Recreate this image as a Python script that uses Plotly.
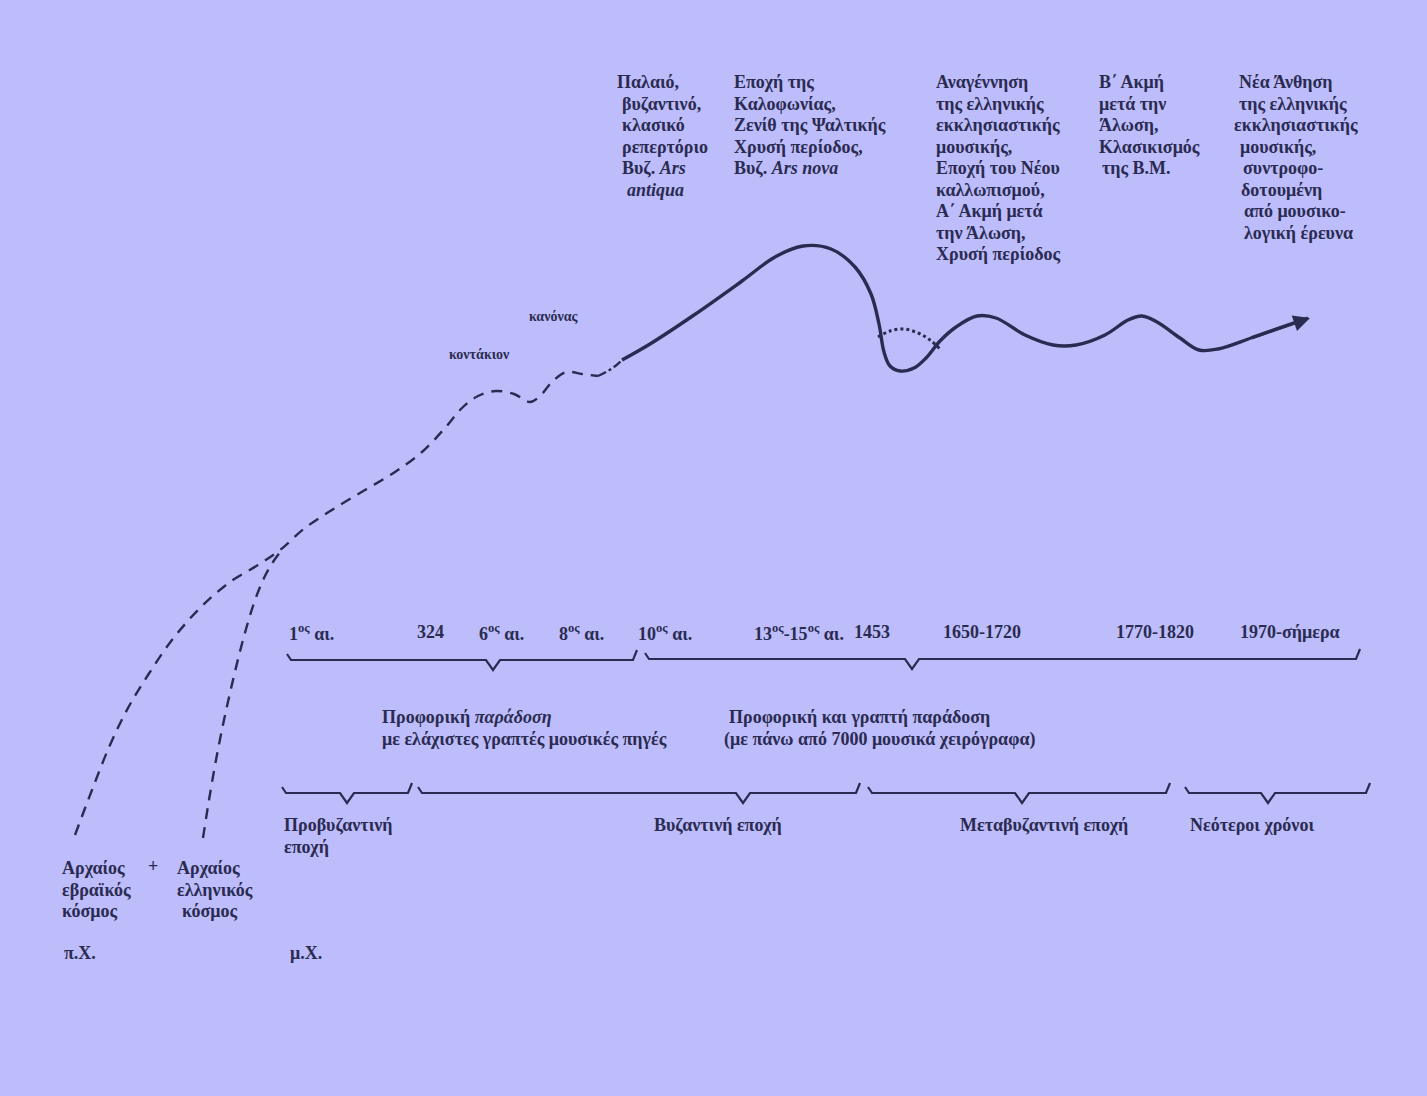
import plotly.graph_objects as go

# page is laid out in pixel units of the original drawing
W, H = 1427, 1096
INK = "#2b2b52"
BG = "#bdbdfb"
FONT = "Liberation Serif"
LINE = 21.5

# main development curve (dashed part: early period)
dash_x = [75, 92, 110, 128, 148, 172, 200, 230, 258, 280, 305, 335, 365, 395, 422, 445, 462, 478, 496, 514, 530, 540, 552, 566, 582, 598]
dash_y = [835, 790, 745, 708, 675, 640, 608, 582, 565, 550, 528, 508, 490, 472, 452, 428, 408, 396, 391, 394, 402, 396, 382, 372, 374, 376]

# dash-dot transition
tran_x = [598, 606, 614, 622]
tran_y = [376, 372, 367, 360]

# solid curve: from 10th century to today
solid_x = [622, 650, 694, 742, 775, 803, 831, 855, 871, 879, 884, 890, 900, 914, 926, 940, 956, 977, 996, 1025, 1053, 1076, 1105, 1128, 1142, 1157, 1180, 1199, 1218, 1251, 1279, 1308]
solid_y = [360, 344, 315, 281, 257, 246, 249, 267, 294, 324, 352, 366, 371, 368, 358, 341, 327, 316, 318, 335, 345, 345, 335, 320, 316, 322, 338, 350, 349, 338, 328, 318]

# dotted alternative arc after 1453
dot_x = [878, 890, 904, 918, 930, 941]
dot_y = [337, 331, 329, 333, 340, 350]

# second dashed branch (ancient Greek world)
greek_x = [203, 209, 216, 224, 233, 243, 254, 264, 273, 280, 283]
greek_y = [838, 800, 760, 720, 680, 640, 603, 578, 562, 552, 547]

# braces: start, end, centre tick, height
brace_x0 = [287, 645, 282, 418, 868, 1185]
brace_x1 = [637, 1360, 412, 860, 1170, 1370]
brace_xc = [493, 912, 347, 743, 1022, 1268]
brace_y = [660, 659, 793, 793, 793, 793]

# period labels above the upper braces
date_labels = ["1<sup>ος</sup> αι.", "324", "6<sup>ος</sup> αι.", "8<sup>ος</sup> αι.", "10<sup>ος</sup> αι.",
               "13<sup>ος</sup>-15<sup>ος</sup> αι.", "1453", "1650-1720", "1770-1820", "1970-σήμερα"]
date_x = [287, 415, 477, 557, 636, 752, 852, 941, 1114, 1238]
date_y = 632

# descriptive blocks above the curve (one list of lines per block)
top_blocks = [
    ["Παλαιό,", "βυζαντινό,", "κλασικό", "ρεπερτόριο", "Βυζ. <i>Ars</i>", "<i>antiqua</i>"],
    ["Εποχή της", "Καλοφωνίας,", "Ζενίθ της Ψαλτικής", "Χρυσή περίοδος,", "Βυζ. <i>Ars nova</i>"],
    ["Αναγέννηση", "της ελληνικής", "εκκλησιαστικής", "μουσικής,", "Εποχή του Νέου",
     "καλλωπισμού,", "Α΄ Ακμή μετά", "την Άλωση,", "Χρυσή περίοδος"],
    ["Β΄ Ακμή", "μετά την", "Άλωση,", "Κλασικισμός", "της Β.Μ."],
    ["Νέα Άνθηση", "της ελληνικής", "εκκλησιαστικής", "μουσικής,", "συντροφο-",
     "δοτουμένη", "από μουσικο-", "λογική έρευνα"],
]
top_line_x = [
    [615, 620, 620, 620, 620, 625],
    [732] * 5,
    [934] * 9,
    [1097, 1097, 1097, 1097, 1100],
    [1237, 1237, 1232, 1238, 1241, 1239, 1242, 1242],
]
top_y0 = 82

# era names under the lower braces
era_labels = [["Προβυζαντινή", "εποχή"], ["Βυζαντινή εποχή"], ["Μεταβυζαντινή εποχή"], ["Νεότεροι χρόνοι"]]
era_x = [282, 652, 958, 1188]
era_y0 = 825

tradition_labels = [["Προφορική <i>παράδοση</i>", "με ελάχιστες γραπτές μουσικές πηγές"],
                    ["Προφορική και γραπτή παράδοση", "(με πάνω από 7000 μουσικά χειρόγραφα)"]]
tradition_line_x = [[380, 380], [727, 722]]
tradition_y0 = 717

origin_labels = [["Αρχαίος", "εβραϊκός", "κόσμος"], ["+"], ["Αρχαίος", "ελληνικός", "κόσμος"], ["π.Χ."], ["μ.Χ."]]
origin_line_x = [[60, 60, 60], [146], [175, 175, 180], [62], [288]]
origin_y0 = [868, 866, 868, 953, 953]

small_labels = ["κανόνας", "κοντάκιον"]
small_x = [527, 447]
small_y = [316, 354]


def brace(x0, x1, xc, y):
    xs = [x0, x0 + 4, xc - 7, xc, xc + 7, x1 - 4, x1]
    ys = [y - 6, y, y, y + 10, y, y, y - 10]
    return xs, ys


fig = go.Figure()

fig.add_trace(go.Scatter(x=dash_x, y=dash_y, mode="lines", line=dict(color=INK, width=2.4, dash="11px,8px", shape="spline")))
fig.add_trace(go.Scatter(x=greek_x, y=greek_y, mode="lines", line=dict(color=INK, width=2.4, dash="11px,8px", shape="spline")))
fig.add_trace(go.Scatter(x=tran_x, y=tran_y, mode="lines", line=dict(color=INK, width=2.4, dash="dashdot", shape="spline")))
fig.add_trace(go.Scatter(x=solid_x, y=solid_y, mode="lines", line=dict(color=INK, width=3.4, shape="spline")))
fig.add_trace(go.Scatter(x=dot_x, y=dot_y, mode="lines", line=dict(color=INK, width=3, dash="dot", shape="spline")))

for x0, x1, xc, y in zip(brace_x0, brace_x1, brace_xc, brace_y):
    bx, by = brace(x0, x1, xc, y)
    fig.add_trace(go.Scatter(x=bx, y=by, mode="lines", line=dict(color=INK, width=2.2)))

# arrow head at the end of the curve
fig.add_annotation(x=solid_x[-1] + 2, y=solid_y[-1], ax=solid_x[-3], ay=solid_y[-3], axref="x", ayref="y",
                   showarrow=True, arrowhead=2, arrowsize=1.1, arrowwidth=3, arrowcolor=INK, text="")


def label(text, x, y, size=18):
    fig.add_annotation(x=x, y=y, text=f"<b>{text}</b>", showarrow=False,
                       xanchor="left", yanchor="middle", align="left",
                       font=dict(family=FONT, size=size, color=INK))


for lines, xs in zip(top_blocks, top_line_x):
    for i, (t, x) in enumerate(zip(lines, xs)):
        label(t, x, top_y0 + i * LINE)
for t, x in zip(date_labels, date_x):
    label(t, x, date_y)
for lines, xs in zip(tradition_labels, tradition_line_x):
    for i, (t, x) in enumerate(zip(lines, xs)):
        label(t, x, tradition_y0 + i * 22)
for lines, x in zip(era_labels, era_x):
    for i, t in enumerate(lines):
        label(t, x, era_y0 + i * LINE)
for lines, xs, y0 in zip(origin_labels, origin_line_x, origin_y0):
    for i, (t, x) in enumerate(zip(lines, xs)):
        label(t, x, y0 + i * LINE)
for t, x, y in zip(small_labels, small_x, small_y):
    label(t, x, y, 14)

fig.update_layout(
    width=W, height=H,
    margin=dict(l=0, r=0, t=0, b=0),
    paper_bgcolor=BG, plot_bgcolor=BG,
    showlegend=False,
    xaxis=dict(range=[0, W], visible=False, fixedrange=True),
    yaxis=dict(range=[H, 0], visible=False, fixedrange=True),
)

fig.write_html("out.html", config={"displayModeBar": False},
               post_script="document.body.style.margin='0';")
